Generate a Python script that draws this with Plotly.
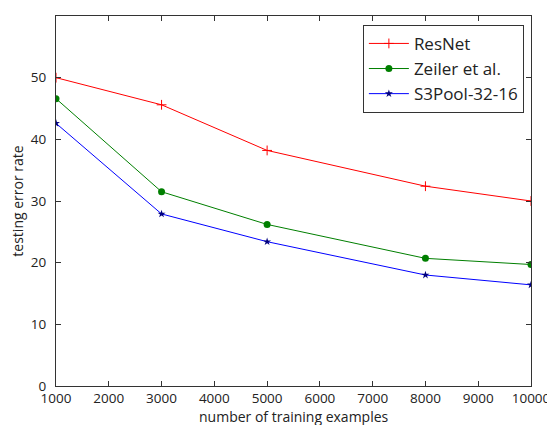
import plotly.graph_objects as go

x_vals = [1000, 3000, 5000, 8000, 10000]
resnet = [50.0, 45.6, 38.2, 32.4, 30.0]
zeiler = [46.6, 31.5, 26.2, 20.7, 19.7]
s3pool = [42.6, 27.9, 23.4, 18.0, 16.4]
x_ticks = [1000, 2000, 3000, 4000, 5000, 6000, 7000, 8000, 9000, 10000]
y_ticks = [0, 10, 20, 30, 40, 50, 60]

FONT = "Open Sans"

fig = go.Figure()
fig.add_trace(go.Scatter(x=x_vals, y=resnet, name="ResNet", mode="lines+markers",
                         line=dict(color="#ff0000", width=1),
                         marker=dict(symbol="cross-thin", size=7, line=dict(color="#ff0000", width=1))))
fig.add_trace(go.Scatter(x=x_vals, y=zeiler, name="Zeiler et al.", mode="lines+markers",
                         line=dict(color="#007f00", width=1),
                         marker=dict(symbol="circle", size=7, color="#007f00")))
fig.add_trace(go.Scatter(x=x_vals, y=s3pool, name="S3Pool-32-16", mode="lines+markers",
                         line=dict(color="#0000ff", width=1),
                         marker=dict(symbol="star", size=6, color="#00007f")))

axis_common = dict(showgrid=False, zeroline=False, showline=True, linecolor="#333", linewidth=1,
                   mirror="allticks", ticks="inside", ticklen=5, tickcolor="#333", automargin=False,
                   tickfont=dict(family=FONT, size=13.5, color="#222"))
fig.update_xaxes(range=[1000, 10000], tickvals=x_ticks, ticktext=[str(v) for v in x_ticks],
                 ticklabelstandoff=0, **axis_common)
fig.update_yaxes(range=[0, 60], tickvals=y_ticks, ticklabelstandoff=6,
                 title=dict(text="testing error rate", font=dict(family=FONT, size=14, color="#222"), standoff=5),
                 **axis_common)
fig.add_annotation(text="number of training examples", xref="paper", yref="paper",
                   x=0.5, y=-0.052, xanchor="center", yanchor="top", showarrow=False,
                   font=dict(family=FONT, size=14, color="#222"))
fig.update_layout(width=547, height=417, margin=dict(l=48, r=24, t=8, b=39),
                  plot_bgcolor="white", paper_bgcolor="white",
                  font=dict(family=FONT, color="#222"),
                  legend=dict(x=0.985, y=0.976, xanchor="right", yanchor="top",
                              bordercolor="#333", borderwidth=1, bgcolor="white",
                              font=dict(size=17, family=FONT), itemwidth=40,
                              tracegroupgap=0))
fig.write_html("out.html")
